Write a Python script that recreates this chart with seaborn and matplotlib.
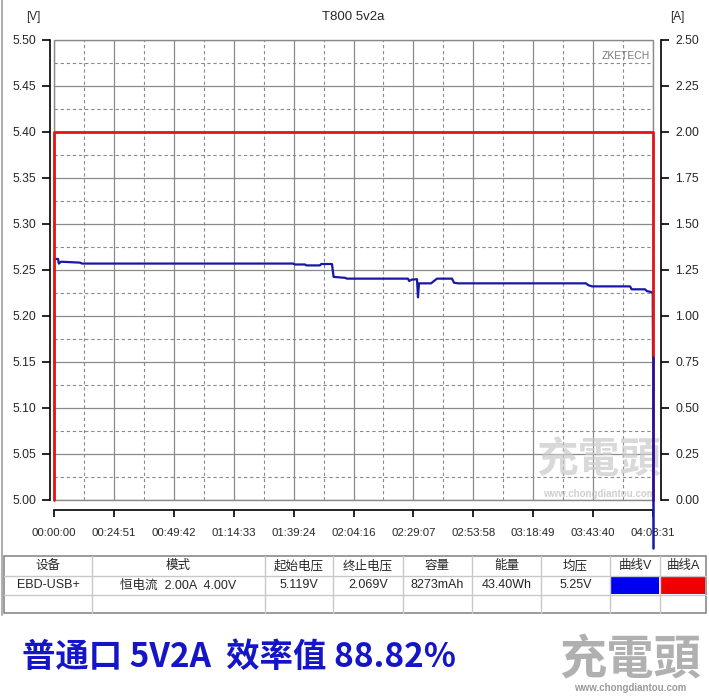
import matplotlib
matplotlib.use("Agg")
import matplotlib.pyplot as plt
import seaborn as sns
import pandas as pd
import numpy as np
from matplotlib.patches import Rectangle
from matplotlib.lines import Line2D

# ---------------- data ----------------
title = "T800 5v2a"
time_s = [0, 100, 120, 174, 650, 697, 5949, 6000, 6248, 6280, 6622, 6650, 6920,
          6960, 7244, 7294, 8812, 8840, 8900, 9036, 9061, 9086, 9385, 9534, 9907,
          9957, 10057, 13243, 13300, 13393, 14339, 14380, 14712, 14760, 14860,
          14905, 14911]
volts = [5.262, 5.262, 5.257, 5.259, 5.258, 5.257, 5.257, 5.256, 5.256, 5.255,
         5.255, 5.2565, 5.2565, 5.2425, 5.2415, 5.2406, 5.2406, 5.238, 5.2395,
         5.240, 5.2203, 5.2355, 5.2355, 5.2406, 5.2406, 5.2362, 5.2355, 5.2355,
         5.2335, 5.2322, 5.2322, 5.229, 5.229, 5.227, 5.2262, 5.2246, 5.155]
tail_time_s = [14911, 14911]
tail_volts = [5.155, 4.948]
cur_time_s = [0, 0, 14911, 14911]
amps = [0.0, 2.0, 2.0, 0.0]

x_max = 14911
x_ticklabels = ["00:00:00", "00:24:51", "00:49:42", "01:14:33", "01:39:24",
                "02:04:16", "02:29:07", "02:53:58", "03:18:49", "03:43:40",
                "04:08:31"]
v_ticks = [5.00, 5.05, 5.10, 5.15, 5.20, 5.25, 5.30, 5.35, 5.40, 5.45, 5.50]
a_ticks = [0.00, 0.25, 0.50, 0.75, 1.00, 1.25, 1.50, 1.75, 2.00, 2.25, 2.50]

table_header = ["设备", "模式", "起始电压", "终止电压", "容量", "能量", "均压", "曲线V", "曲线A"]
table_row = ["EBD-USB+", "恒电流  2.00A  4.00V", "5.119V", "2.069V", "8273mAh",
             "43.40Wh", "5.25V", "", ""]
caption = "普通口 5V2A  效率值 88.82%"

# ---------------- style ----------------
sns.set_style("white")
plt.rcParams['font.family'] = ['Liberation Sans', 'Noto Sans CJK SC', 'DejaVu Sans']
CJK = ['Liberation Sans', 'Noto Sans CJK SC', 'DejaVu Sans']

W, H = 709, 699
fig = plt.figure(figsize=(W / 100, H / 100), dpi=100)
fig.patch.set_facecolor("white")

def fx(px):
    return px / W

def fy(py):
    return 1 - py / H

L, R, T, B = 54, 653, 40, 500
ax = fig.add_axes([fx(L), fy(B), fx(R - L), (B - T) / H])
ax2 = ax.twinx()

BLUE = "#1818a8"
RED = "#e41414"
GRID = "#8a8a8a"

df_v = pd.DataFrame({"t": time_s, "v": volts})
df_a = pd.DataFrame({"t": cur_time_s, "a": amps})
df_tail = pd.DataFrame({"t": tail_time_s, "v": tail_volts})

sns.lineplot(data=df_v, x="t", y="v", ax=ax, sort=False, estimator=None,
             color=BLUE, lw=1.6, zorder=3)
sns.lineplot(data=df_a, x="t", y="a", ax=ax2, sort=False, estimator=None,
             color=RED, lw=2.0, zorder=3)
sns.lineplot(data=df_tail, x="t", y="v", ax=ax2, sort=False, estimator=None,
             color=BLUE, lw=1.8, zorder=4, transform=ax.transData)
for a_ in (ax, ax2):
    for ln in a_.lines:
        ln.set_clip_on(False)

ax.set_xlim(0, x_max)
ax.set_ylim(5.0, 5.5)
ax2.set_ylim(0, 2.5)
ax2.set_xlim(0, x_max)

xt = [i * x_max / 10 for i in range(11)]
ax.set_xticks(xt)
ax.set_xticklabels(x_ticklabels)
ax.set_xticks([(i + 0.5) * x_max / 10 for i in range(10)], minor=True)
ax.set_yticks(v_ticks)
ax.set_yticklabels([f"{v:.2f}" for v in v_ticks])
ax.set_yticks([v + 0.025 for v in v_ticks[:-1]], minor=True)
ax2.set_yticks(a_ticks)
ax2.set_yticklabels([f"{a:.2f}" for a in a_ticks])

ax.set_xlabel("")
ax.set_ylabel("")
ax2.set_xlabel("")
ax2.set_ylabel("")

ax.set_axisbelow(True)
ax.grid(which="major", color=GRID, lw=0.9, ls="-")
ax.grid(which="minor", color=GRID, lw=0.8, ls=(0, (3, 2.5)))

for s in ["top", "right"]:
    ax.spines[s].set_visible(False)
for s in ["top", "left", "bottom"]:
    ax2.spines[s].set_visible(False)
ax.spines["left"].set_position(("outward", 3))
ax.spines["bottom"].set_position(("outward", 7))
ax2.spines["right"].set_position(("outward", 6))
for sp in [ax.spines["left"], ax.spines["bottom"], ax2.spines["right"]]:
    sp.set_color("black")
    sp.set_linewidth(1.2)

ax.tick_params(axis="x", which="major", direction="out", length=5, width=1.2,
               color="black", labelsize=8.2, pad=8, bottom=True)
ax.tick_params(axis="y", which="major", direction="out", length=6, width=1.2,
               color="black", labelsize=8.7, pad=4, left=True)
ax.tick_params(which="minor", length=0)
ax2.tick_params(axis="y", direction="out", length=6, width=1.2, color="black",
                labelsize=8.7, pad=4, right=True)

# plot frame
ax.add_patch(Rectangle((0, 0), 1, 1, transform=ax.transAxes, fill=False,
                       ec=GRID, lw=1.0, zorder=1, clip_on=False))

# watermark inside the plot
ax.text(0.91, 0.085, "充電頭", transform=ax.transAxes, ha="center", va="center",
        fontsize=30, fontweight="bold", color="#cacaca", alpha=0.7,
        family=CJK, zorder=2)
ax.text(0.91, 0.012, "www.chongdiantou.com", transform=ax.transAxes,
        ha="center", va="center", fontsize=7, fontweight="bold",
        color="#c4c4c4", alpha=0.8, zorder=2)
ax.text(0.955, 0.965, "ZKETECH", transform=ax.transAxes, ha="center",
        va="center", fontsize=7.5, color="#7a7a7a", zorder=2)

# titles / units
fig.text(fx(353), fy(17), title, ha="center", va="center", fontsize=9.5)
fig.text(fx(33), fy(17), "[V]", ha="center", va="center", fontsize=8.5)
fig.text(fx(677), fy(17), "[A]", ha="center", va="center", fontsize=8.5)

# window border line on left
fig.add_artist(Line2D([fx(1.5), fx(1.5)], [fy(0), fy(615)], color="#b0b0b0", lw=1.5))

# ---------------- table ----------------
tax = fig.add_axes([0, 0, 1, 1], zorder=5)
tax.set_xlim(0, W)
tax.set_ylim(H, 0)
tax.axis("off")
tax.patch.set_alpha(0)

cols = [4, 92, 265, 333, 403, 472, 541, 610, 660, 706]
rows = [556, 576, 595, 613]
for c in cols[1:-1]:
    tax.plot([c, c], [rows[0], rows[-1]], color="#c8c8c8", lw=1)
for r in rows[1:-1]:
    tax.plot([cols[0], cols[-1]], [r, r], color="#c8c8c8", lw=1)
tax.add_patch(Rectangle((cols[0], rows[0]), cols[-1] - cols[0], rows[-1] - rows[0],
                        fill=False, ec="#8a8a8a", lw=1.2))
# colour swatches
tax.add_patch(Rectangle((cols[7] + 1, rows[1] + 1), cols[8] - cols[7] - 2,
                        rows[2] - rows[1] - 2, fc="#0000f0", ec="none"))
tax.add_patch(Rectangle((cols[8] + 1, rows[1] + 1), cols[9] - cols[8] - 2,
                        rows[2] - rows[1] - 2, fc="#f00000", ec="none"))
for i in range(len(table_header)):
    cx = (cols[i] + cols[i + 1]) / 2
    tax.text(cx, (rows[0] + rows[1]) / 2, table_header[i], ha="center",
             va="center", fontsize=9, family=CJK)
    if table_row[i]:
        tax.text(cx, (rows[1] + rows[2]) / 2, table_row[i], ha="center",
                 va="center", fontsize=9, family=CJK)

# caption
tax.text(22, 657, caption, ha="left", va="center", fontsize=24,
         fontweight="bold", color="#1414c8", family=['Noto Sans CJK SC', 'DejaVu Sans'])

# bottom-right logo
tax.text(630, 660, "充電頭", ha="center", va="center", fontsize=34,
         fontweight="bold", color="#b0b0b0", family=['Noto Sans CJK SC', 'DejaVu Sans'])
tax.text(630, 688, "www.chongdiantou.com", ha="center", va="center",
         fontsize=7, fontweight="bold", color="#9a9a9a")

fig.savefig("out.png", dpi=100)
